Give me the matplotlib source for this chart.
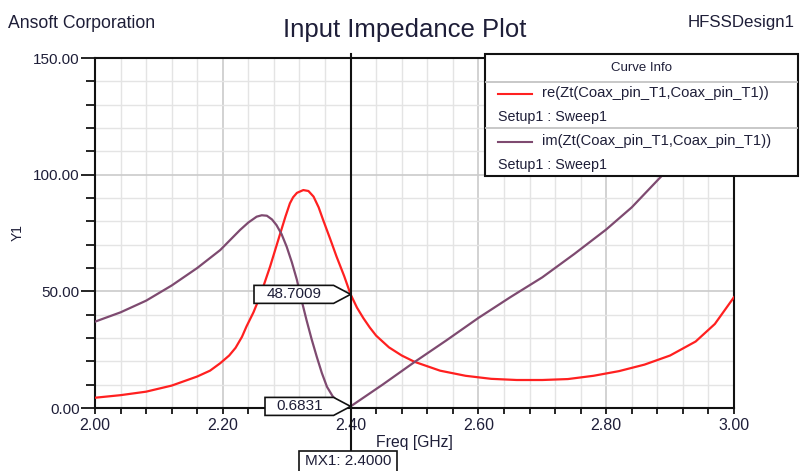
import matplotlib
matplotlib.use('Agg')
import matplotlib.pyplot as plt
from matplotlib.patches import Polygon, Rectangle
from matplotlib.ticker import MultipleLocator

# Values
freq_re = [2.00, 2.04, 2.08, 2.12, 2.16, 2.18, 2.196, 2.21, 2.22, 2.23, 2.237, 2.248,
           2.258, 2.274, 2.29, 2.298, 2.305, 2.31, 2.316, 2.326, 2.334, 2.342, 2.35,
           2.357, 2.368, 2.378, 2.39, 2.40, 2.41, 2.42, 2.43, 2.44, 2.46, 2.48, 2.50,
           2.54, 2.58, 2.62, 2.66, 2.70, 2.74, 2.78, 2.82, 2.86, 2.90, 2.94, 2.97, 3.00]
re_vals = [4.4, 5.5, 7.0, 9.6, 13.5, 16.0, 19.2, 22.5, 25.8, 30.5, 34.9, 41.0,
           47.7, 60.6, 74.9, 82.0, 87.7, 90.3, 92.2, 93.4, 93.0, 90.6, 86.0,
           80.6, 72.5, 64.9, 56.5, 48.7, 43.0, 38.5, 34.5, 31.0, 26.0, 22.5, 19.8,
           16.0, 13.8, 12.5, 12.0, 12.0, 12.4, 13.8, 15.8, 18.6, 22.5, 28.5, 36.0, 47.5]

freq_im = [2.00, 2.04, 2.08, 2.12, 2.16, 2.196, 2.227, 2.24, 2.253, 2.261, 2.269, 2.277,
           2.284, 2.292, 2.30, 2.308, 2.316, 2.323, 2.331, 2.339, 2.347, 2.355, 2.363,
           2.372, 2.383, 2.392, 2.40, 2.45, 2.50, 2.55, 2.60, 2.65, 2.70, 2.75, 2.80,
           2.84, 2.88, 2.92]
im_vals = [37.0, 41.0, 46.0, 52.5, 60.0, 67.7, 76.3, 79.5, 82.0, 82.6, 82.4, 80.8,
           78.4, 74.5, 69.1, 62.5, 54.9, 46.5, 37.7, 29.5, 22.0, 15.0, 9.1,
           5.0, 2.0, 1.0, 0.68, 10.0, 19.7, 29.0, 38.6, 47.5, 56.0, 66.0, 76.5,
           86.0, 97.5, 109.0]

marker_freq = 2.4
marker_re = 48.7009
marker_im = 0.6831

curve_names = ['re(Zt(Coax_pin_T1,Coax_pin_T1))', 'im(Zt(Coax_pin_T1,Coax_pin_T1))']
sweep_name = 'Setup1 : Sweep1'

RED = '#ff2020'
PURPLE = '#7e4a70'
TXT = '#1e1e38'
W, H = 801, 471

plt.rcParams['font.family'] = ['Liberation Sans', 'DejaVu Sans']

fig = plt.figure(figsize=(W / 100, H / 100), dpi=100)
ax = fig.add_axes([95 / W, 1 - 408 / H, 639 / W, 350 / H])

ax.plot(freq_re, re_vals, color=RED, lw=1.6, zorder=3)
ax.plot(freq_im, im_vals, color=PURPLE, lw=1.6, zorder=3)

ax.set_xlim(2.0, 3.0)
ax.set_ylim(0, 150)
ax.xaxis.set_major_locator(MultipleLocator(0.2))
ax.xaxis.set_minor_locator(MultipleLocator(0.04))
ax.yaxis.set_major_locator(MultipleLocator(50))
ax.yaxis.set_minor_locator(MultipleLocator(10))
ax.xaxis.set_major_formatter(lambda v, p: f'{v:.2f}')
ax.yaxis.set_major_formatter(lambda v, p: f'{v:.2f}')

ax.grid(which='minor', color='#e4e4e4', lw=1.0, zorder=0)
ax.grid(which='major', color='#cbcbcb', lw=1.2, zorder=0)
ax.set_axisbelow(True)

for s in ax.spines.values():
    s.set_linewidth(1.5)
    s.set_color('#111111')

ax.tick_params(axis='y', which='major', length=10, width=1.2, pad=1, labelsize=11, labelcolor=TXT)
ax.tick_params(axis='y', which='minor', length=6.5, width=1.2)
ax.tick_params(axis='x', which='major', length=4, width=1.2, pad=3, labelsize=11.5, labelcolor=TXT)
ax.tick_params(axis='x', which='minor', length=4, width=1.2)

ax.set_xlabel('Freq [GHz]', fontsize=11.3, color=TXT, labelpad=2)
ax.set_ylabel('Y1', fontsize=10, color=TXT, labelpad=6)

fig.text(8 / W, 1 - 23 / H, 'Ansoft Corporation', fontsize=12.7, color=TXT, va='center', ha='left')
fig.text(405 / W, 1 - 30 / H, 'Input Impedance Plot', fontsize=18.5, color=TXT, va='center', ha='center')
fig.text(795 / W, 1 - 23 / H, 'HFSSDesign1', fontsize=12.2, color=TXT, va='center', ha='right')

# overlay in pixel coordinates (origin bottom-left) for the marker and the curve info box
ov = fig.add_axes([0, 0, 1, 1], zorder=5)
ov.set_xlim(0, W)
ov.set_ylim(0, H)
ov.axis('off')
ov.patch.set_alpha(0)

def to_px(x, y):
    return ax.transData.transform((x, y))

mx, _ = to_px(marker_freq, 0)
ov.plot([mx, mx], [H - 54, H - 451], color='#111111', lw=1.5, zorder=2)

# marker value flags pointing at the curves
for val, left in [(marker_re, 254), (marker_im, 265)]:
    tx, ty = to_px(marker_freq, val)
    h = 9
    flag = Polygon([(left, ty - h), (tx - 17, ty - h), (tx, ty), (tx - 17, ty + h), (left, ty + h)],
                   closed=True, facecolor='white', edgecolor='#111111', lw=1.2, zorder=4)
    ov.add_patch(flag)
    ov.text((left + tx - 17) / 2, ty, f'{val:.4f}', fontsize=11, color=TXT,
            ha='center', va='center', zorder=5)

ov.add_patch(Rectangle((299, -5), 98, H - 451 + 5, facecolor='white', edgecolor='#111111',
                       lw=1.2, zorder=4))
ov.text(348, H - 461, f'MX1: {marker_freq:.4f}', fontsize=11, color=TXT,
        ha='center', va='center', zorder=5)

# curve info box
box_l, box_r, box_t, box_b = 485, 798, 54, 176
ov.add_patch(Rectangle((box_l, H - box_b), box_r - box_l, box_b - box_t, facecolor='white',
                       edgecolor='#111111', lw=1.5, zorder=6))
for sep in [82, 128]:
    ov.plot([box_l + 1, box_r - 1], [H - sep, H - sep], color='#c4c4c4', lw=1.3, zorder=7)
ov.text((box_l + box_r) / 2, H - 68, 'Curve Info', fontsize=9.5, color=TXT,
        ha='center', va='center', zorder=8)
for i, (name, col) in enumerate(zip(curve_names, [RED, PURPLE])):
    y0 = 93.5 + i * 48
    ov.plot([498, 532], [H - y0, H - y0], color=col, lw=1.5, zorder=8)
    ov.text(542, H - y0, name, fontsize=10.6, color=TXT, ha='left', va='center', zorder=8)
    ov.text(498, H - y0 - 23, sweep_name, fontsize=10.3, color=TXT, ha='left', va='center', zorder=8)

fig.savefig('out.png', dpi=100)
